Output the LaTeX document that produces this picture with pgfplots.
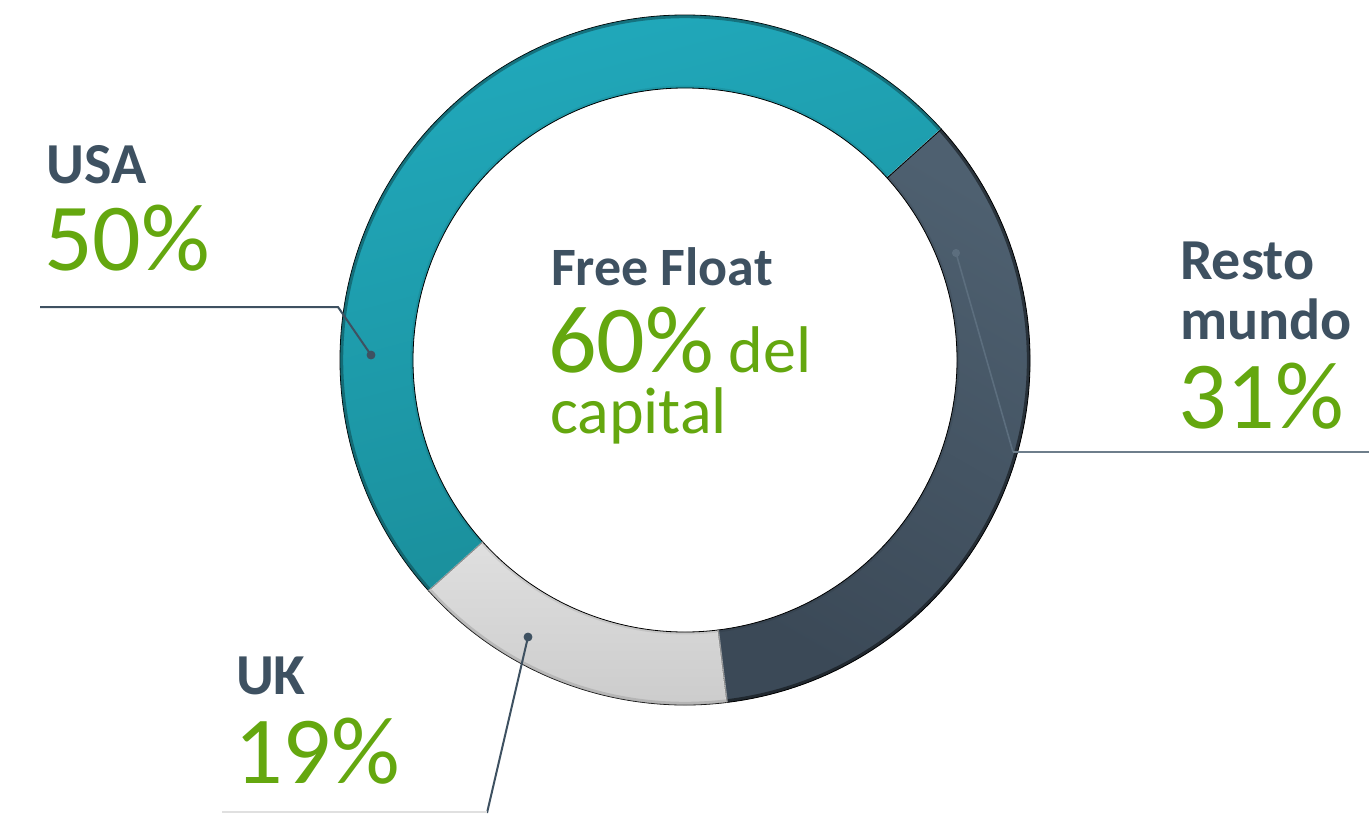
\documentclass[border=0pt]{standalone}
\usepackage{pgfplots}
\pgfplotsset{compat=1.18}
\usepackage{pgfplotstable}
\usepackage{fontspec}
\setmainfont{Carlito}
\definecolor{usaA}{HTML}{21AABD}
\definecolor{usaB}{HTML}{1A8D99}
\definecolor{resA}{HTML}{4E6070}
\definecolor{resB}{HTML}{3B4957}
\definecolor{ukA}{HTML}{DFDFDF}
\definecolor{ukB}{HTML}{CBCBCB}
\definecolor{txt}{HTML}{3E5161}
\definecolor{grn}{HTML}{64A70F}
\definecolor{resline}{HTML}{5C6E7E}
\definecolor{greyline}{HTML}{6E7E8B}
\tikzset{lab/.style={anchor=base west,inner sep=0pt,outer sep=0pt}}
\pgfdeclareplotmark{nothing}{}
% segments of the ring: share (%), start and end angle (deg) as drawn
\pgfplotstableread{
id share start end
0 50 42 222
1 19 222 277
2 31 277 402
}\ringdata
\pgfplotstablegetelem{0}{start}\of\ringdata\edef\sA{\pgfplotsretval}
\pgfplotstablegetelem{0}{end}\of\ringdata\edef\eA{\pgfplotsretval}
\pgfplotstablegetelem{1}{start}\of\ringdata\edef\sB{\pgfplotsretval}
\pgfplotstablegetelem{1}{end}\of\ringdata\edef\eB{\pgfplotsretval}
\pgfplotstablegetelem{2}{start}\of\ringdata\edef\sC{\pgfplotsretval}
\pgfplotstablegetelem{2}{end}\of\ringdata\edef\eC{\pgfplotsretval}
\newcommand\ringseg[4]{%
  \shade[#3] (#1:172.5pt) arc[start angle=#1,end angle=#2,radius=172.5pt]
    -- (#2:136pt) arc[start angle=#2,end angle=#1,radius=136pt] -- cycle;
  \draw[#4,line width=1.6pt] (#1:171.7pt) arc[start angle=#1,end angle=#2,radius=171.7pt];
  \draw[black,opacity=0.08,line width=1.2pt] (#1:136.6pt) arc[start angle=#1,end angle=#2,radius=136.6pt];
  \draw[white,opacity=0.55,line width=0.8pt] (#1:136pt) -- (#1:172.5pt);
}
\begin{document}
\begin{tikzpicture}
\path[use as bounding box] (0,0) rectangle (684.5pt,406.5pt);
\begin{axis}[x=0.5pt,y=0.5pt,xmin=0,xmax=1369,ymin=0,ymax=813,y dir=reverse,
  hide axis,clip=false,clip marker paths=true,at={(0,0)},anchor=south west]
\addplot[scatter,only marks,mark=nothing,point meta=y,
  scatter/@pre marker code/.code={\ringseg{\sA}{\eA}{top color=usaA,bottom color=usaB,shading angle=15}{black!55!usaB,opacity=0.5}},
  scatter/@post marker code/.code={}]
  coordinates {(685,360)};
\addplot[scatter,only marks,mark=nothing,point meta=y,
  scatter/@pre marker code/.code={\ringseg{\sB}{\eB}{top color=ukA,bottom color=ukB}{black!40,opacity=0.45}},
  scatter/@post marker code/.code={}]
  coordinates {(685,360)};
\addplot[scatter,only marks,mark=nothing,point meta=y,
  scatter/@pre marker code/.code={\ringseg{\sC}{\eC}{top color=resA,bottom color=resB,shading angle=-30}{black,opacity=0.45}},
  scatter/@post marker code/.code={}]
  coordinates {(685,360)};
% leader lines
\addplot[txt,line width=1pt,mark=none] coordinates {(40,307) (338,307) (371,355)};
\addplot[resline,line width=0.8pt,mark=none] coordinates {(956,253) (1013,452)};
\addplot[greyline,line width=0.9pt,mark=none] coordinates {(1013,452) (1369,452)};
\addplot[txt,line width=1pt,mark=none] coordinates {(528,637) (487,813)};
\addplot[black!12,line width=0.8pt,mark=none] coordinates {(222,812) (487,812)};
\addplot[txt,only marks,mark=*,mark size=2pt] coordinates {(371,355) (528,637)};
\addplot[resline,only marks,mark=*,mark size=1.8pt] coordinates {(956,253)};
% labels
\node[lab,txt,font=\fontsize{29}{34}\selectfont\bfseries] at (47,183) {USA};
\node[lab,grn,font=\fontsize{48}{56}\selectfont] at (44,270) {50\%};
\node[lab,txt,font=\fontsize{29}{34}\selectfont\bfseries] at (1180,279) {Resto};
\node[lab,txt,font=\fontsize{29}{34}\selectfont\bfseries] at (1180,339) {mundo};
\node[lab,grn,font=\fontsize{48}{56}\selectfont] at (1178,428) {31\%};
\node[lab,txt,font=\fontsize{29}{34}\selectfont\bfseries] at (236,694) {UK};
\node[lab,grn,font=\fontsize{48}{56}\selectfont] at (234,783) {19\%};
\node[lab,txt,font=\fontsize{27}{32}\selectfont\bfseries] at (551,285) {Free Float};
\node[lab,grn,align=left,font=\fontsize{48}{30.5}\selectfont] at (548,433)
  {60\%{\fontsize{33}{30.5}\selectfont\ del}\\\hspace*{1pt}{\fontsize{33}{30.5}\selectfont capital}};
\end{axis}
\end{tikzpicture}
\end{document}
